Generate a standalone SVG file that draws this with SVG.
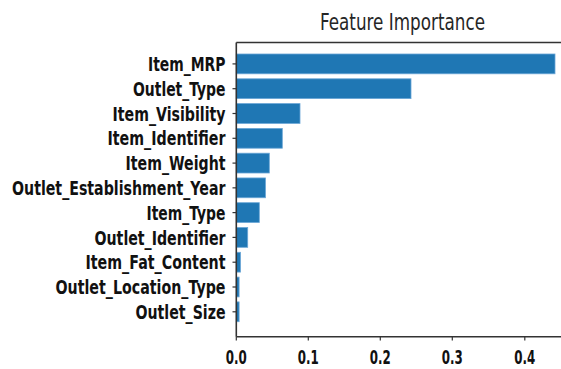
<svg xmlns="http://www.w3.org/2000/svg" width="561" height="369" viewBox="0 0 561 369">
  <style>
    .bar { fill: #1f77b4; stroke: #6aa6d6; stroke-width: 0.8; }
    .spine { stroke: #333333; stroke-width: 1.6; fill: none; }
    .tick { stroke: #333333; stroke-width: 1.2; }
    .ylab { font-family: "DejaVu Sans", sans-serif; font-weight: bold; font-size: 19.5px; fill: #111111; text-anchor: end; }
    .xlab { font-family: "DejaVu Sans", sans-serif; font-weight: bold; font-size: 19px; fill: #111111; text-anchor: middle; }
    .title { font-family: "DejaVu Sans", sans-serif; font-size: 22.5px; fill: #262626; text-anchor: middle; }
  </style>
  <rect width="561" height="369" fill="#ffffff"/>

  <text class="title" x="402.5" y="29.5" textLength="165" lengthAdjust="spacingAndGlyphs">Feature Importance</text>

  <!-- bars: x = 236.3 + value * 720, row pitch 24.79 -->
  <g id="bars">
    <g id="item_mrp"><rect class="bar" x="236.3" y="54" width="318.7" height="19.8"/></g>
    <g id="outlet_type"><rect class="bar" x="236.3" y="78.8" width="174.7" height="19.8"/></g>
    <g id="item_visibility"><rect class="bar" x="236.3" y="103.6" width="63.7" height="19.8"/></g>
    <g id="item_identifier"><rect class="bar" x="236.3" y="128.4" width="46" height="19.8"/></g>
    <g id="item_weight"><rect class="bar" x="236.3" y="153.2" width="33" height="19.8"/></g>
    <g id="outlet_establishment_year"><rect class="bar" x="236.3" y="177.95" width="29.2" height="19.8"/></g>
    <g id="item_type"><rect class="bar" x="236.3" y="202.7" width="23" height="19.8"/></g>
    <g id="outlet_identifier"><rect class="bar" x="236.3" y="227.5" width="11.4" height="19.8"/></g>
    <g id="item_fat_content"><rect class="bar" x="236.3" y="252.3" width="4.2" height="19.8"/></g>
    <g id="outlet_location_type"><rect class="bar" x="236.3" y="277.1" width="2.8" height="19.8"/></g>
    <g id="outlet_size"><rect class="bar" x="236.3" y="301.9" width="2.8" height="19.8"/></g>
  </g>

  <!-- axes frame -->
  <g id="axes">
    <line class="spine" x1="236.3" y1="42.5" x2="561" y2="42.5"/>
    <line class="spine" x1="236.3" y1="336.7" x2="561" y2="336.7"/>
    <line class="spine" x1="236.3" y1="42.5" x2="236.3" y2="336.7"/>
  </g>

  <!-- y ticks and category labels -->
  <g id="yaxis">
    <line class="tick" x1="232.5" y1="63.9" x2="236.3" y2="63.9"/>
    <line class="tick" x1="232.5" y1="88.7" x2="236.3" y2="88.7"/>
    <line class="tick" x1="232.5" y1="113.5" x2="236.3" y2="113.5"/>
    <line class="tick" x1="232.5" y1="138.3" x2="236.3" y2="138.3"/>
    <line class="tick" x1="232.5" y1="163.1" x2="236.3" y2="163.1"/>
    <line class="tick" x1="232.5" y1="187.85" x2="236.3" y2="187.85"/>
    <line class="tick" x1="232.5" y1="212.6" x2="236.3" y2="212.6"/>
    <line class="tick" x1="232.5" y1="237.4" x2="236.3" y2="237.4"/>
    <line class="tick" x1="232.5" y1="262.2" x2="236.3" y2="262.2"/>
    <line class="tick" x1="232.5" y1="287" x2="236.3" y2="287"/>
    <line class="tick" x1="232.5" y1="311.8" x2="236.3" y2="311.8"/>

    <text class="ylab" x="225.5" y="71" textLength="77.5" lengthAdjust="spacingAndGlyphs">Item_MRP</text>
    <text class="ylab" x="225.5" y="95.8" textLength="92.5" lengthAdjust="spacingAndGlyphs">Outlet_Type</text>
    <text class="ylab" x="225.5" y="120.6" textLength="113" lengthAdjust="spacingAndGlyphs">Item_Visibility</text>
    <text class="ylab" x="225.5" y="145.4" textLength="118" lengthAdjust="spacingAndGlyphs">Item_Identifier</text>
    <text class="ylab" x="225.5" y="170.2" textLength="100" lengthAdjust="spacingAndGlyphs">Item_Weight</text>
    <text class="ylab" x="225.5" y="194.9" textLength="213.5" lengthAdjust="spacingAndGlyphs">Outlet_Establishment_Year</text>
    <text class="ylab" x="225.5" y="219.7" textLength="79" lengthAdjust="spacingAndGlyphs">Item_Type</text>
    <text class="ylab" x="225.5" y="244.5" textLength="131" lengthAdjust="spacingAndGlyphs">Outlet_Identifier</text>
    <text class="ylab" x="225.5" y="269.3" textLength="140" lengthAdjust="spacingAndGlyphs">Item_Fat_Content</text>
    <text class="ylab" x="225.5" y="294.1" textLength="170" lengthAdjust="spacingAndGlyphs">Outlet_Location_Type</text>
    <text class="ylab" x="225.5" y="318.9" textLength="90" lengthAdjust="spacingAndGlyphs">Outlet_Size</text>
  </g>

  <!-- x ticks and value labels -->
  <g id="xaxis">
    <line class="tick" x1="236.3" y1="336.7" x2="236.3" y2="340.5"/>
    <line class="tick" x1="308.3" y1="336.7" x2="308.3" y2="340.5"/>
    <line class="tick" x1="380.3" y1="336.7" x2="380.3" y2="340.5"/>
    <line class="tick" x1="452.3" y1="336.7" x2="452.3" y2="340.5"/>
    <line class="tick" x1="524.8" y1="336.7" x2="524.8" y2="340.5"/>

    <text class="xlab" x="236.3" y="364.2" textLength="21" lengthAdjust="spacingAndGlyphs">0.0</text>
    <text class="xlab" x="308.3" y="364.2" textLength="21" lengthAdjust="spacingAndGlyphs">0.1</text>
    <text class="xlab" x="380.3" y="364.2" textLength="21" lengthAdjust="spacingAndGlyphs">0.2</text>
    <text class="xlab" x="452.3" y="364.2" textLength="21" lengthAdjust="spacingAndGlyphs">0.3</text>
    <text class="xlab" x="524.8" y="364.2" textLength="21" lengthAdjust="spacingAndGlyphs">0.4</text>
  </g>
</svg>
